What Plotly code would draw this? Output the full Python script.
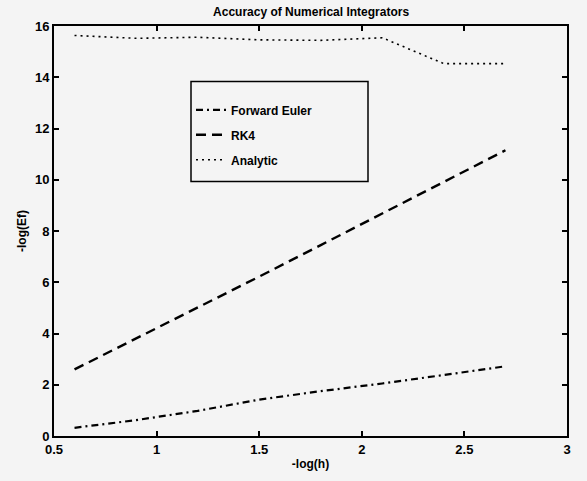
import plotly.graph_objects as go

neg_log_h = [0.6, 0.9, 1.2, 1.5, 1.8, 2.1, 2.4, 2.7]
euler = [0.32, 0.62, 0.98, 1.42, 1.75, 2.05, 2.38, 2.72]
rk4 = [2.60, 3.80, 5.00, 6.22, 7.45, 8.68, 9.92, 11.15]
analytic = [15.63, 15.52, 15.56, 15.46, 15.44, 15.54, 14.53, 14.53]

x_ticks = [0.5, 1, 1.5, 2, 2.5, 3]
x_tick_labels = ["0.5", "1", "1.5", "2", "2.5", "3"]
y_ticks = [0, 2, 4, 6, 8, 10, 12, 14, 16]

FONT = "Liberation Sans"
BG = "#f4f4f4"

fig = go.Figure()
fig.add_trace(go.Scatter(x=neg_log_h, y=euler, mode="lines", name="<b>Forward Euler</b>",
                         legendgroup="a",
                         line=dict(color="black", width=2.2, dash="7px,4px,2px,4px")))
fig.add_trace(go.Scatter(x=neg_log_h, y=rk4, mode="lines", name="<b>RK4</b>",
                         legendgroup="b",
                         line=dict(color="black", width=2.4, dash="10px,6px")))
fig.add_trace(go.Scatter(x=neg_log_h, y=analytic, mode="lines", name="<b>Analytic</b>",
                         legendgroup="c",
                         line=dict(color="black", width=1.6, dash="2px,4px")))

W, H = 587, 481
L, R, T, B = 54, 20, 26, 41
pw, ph = W - L - R, H - T - B

def px_x(p):
    return (p - L) / pw

def px_y(p):
    return 1 - (p - T) / ph

axis_common = dict(showline=True, linecolor="black", linewidth=2, mirror="ticks",
                   ticks="inside", ticklen=5, tickwidth=1.5, tickcolor="black",
                   showgrid=False, zeroline=False,
                   tickfont=dict(family=FONT, size=13, color="black"))

fig.update_layout(
    width=W, height=H,
    margin=dict(l=L, r=R, t=T, b=B),
    paper_bgcolor=BG, plot_bgcolor=BG,
    title=dict(text="<b>Accuracy of Numerical Integrators</b>", x=0.53, xanchor="center",
               y=1 - 12 / H, yanchor="middle", yref="container",
               font=dict(family=FONT, size=12, color="black")),
    xaxis=dict(range=[0.5, 3], tickvals=x_ticks, ticktext=["<b>%s</b>" % t for t in x_tick_labels],
               title=dict(text="<b>-log(h)</b>", standoff=4,
                          font=dict(family=FONT, size=12, color="black")),
               **axis_common),
    yaxis=dict(range=[0, 16], tickvals=y_ticks, ticktext=["<b>%d</b>" % t for t in y_ticks],
               title=dict(text="<b>-log(Ef)</b>", standoff=6,
                          font=dict(family=FONT, size=12, color="black")),
               **axis_common),
    legend=dict(x=px_x(191), y=px_y(96), xanchor="left", yanchor="top",
                bgcolor="rgba(0,0,0,0)", borderwidth=0,
                tracegroupgap=6,
                font=dict(family=FONT, size=12, color="black")),
    showlegend=True,
)

fig.add_shape(type="rect", xref="paper", yref="paper",
              x0=px_x(191), x1=px_x(368), y0=px_y(183), y1=px_y(82),
              line=dict(color="black", width=1.5), fillcolor="rgba(0,0,0,0)")

fig.write_html("out.html")
